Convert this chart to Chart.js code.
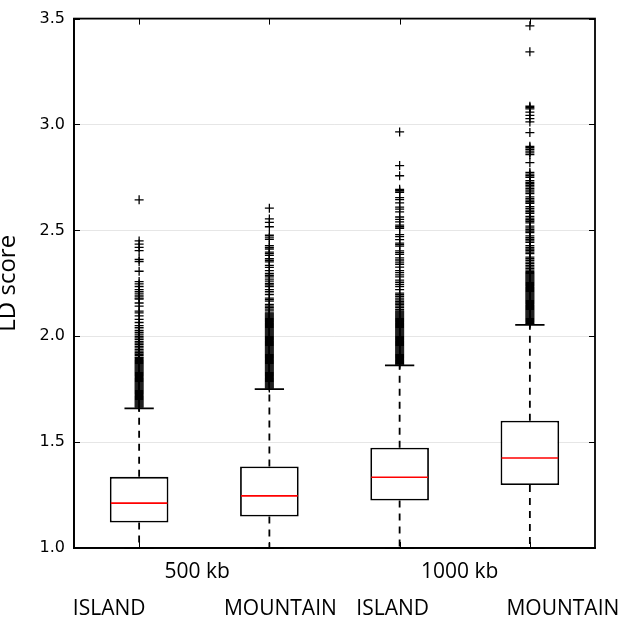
<!DOCTYPE html>
<html>
<head>
<meta charset="utf-8">
<script src="https://cdn.jsdelivr.net/npm/chart.js@4/dist/chart.umd.min.js"></script>
<style>
html,body{margin:0;padding:0;background:#fff;}
canvas{display:block;}
</style>
</head>
<body>
<canvas id="c" width="621" height="623"></canvas>
<script>
// ---- data ----
const categories = ['ISLAND', 'MOUNTAIN', 'ISLAND', 'MOUNTAIN'];
const groups = ['500 kb', '1000 kb'];
const categoryGroup = [0, 0, 1, 1];
const yTickLabels = ['1.0', '1.5', '2.0', '2.5', '3.0', '3.5'];
const whiskerLow = [1.0, 1.0, 1.0, 1.0];
const q1 = [1.120, 1.149, 1.224, 1.297];
const median = [1.212, 1.246, 1.334, 1.425];
const q3 = [1.336, 1.385, 1.474, 1.601];
const whiskerHigh = [1.659, 1.750, 1.862, 2.054];

const outliers500Island = [2.644, 2.45, 2.435, 2.42, 2.404, 2.363, 2.353, 2.307, 2.258, 2.247, 2.235, 2.22, 2.21, 2.2, 2.19, 2.18, 2.175, 2.157, 2.142, 2.119, 2.11, 2.096, 2.08, 2.065, 2.05, 2.04, 2.027, 2.018, 2.01, 2.0, 1.992, 1.985, 1.976, 1.968, 1.96, 1.952, 1.945, 1.937, 1.93, 1.922, 1.915, 1.908, 1.9,
  1.665, 1.67, 1.675, 1.68, 1.685, 1.69, 1.695, 1.7, 1.705, 1.71, 1.715, 1.72, 1.725, 1.73, 1.735, 1.74, 1.745, 1.75, 1.755, 1.76, 1.765, 1.77, 1.775, 1.78, 1.785, 1.79, 1.795, 1.8, 1.805, 1.81, 1.815, 1.82, 1.825, 1.83, 1.835, 1.84, 1.845, 1.85, 1.855, 1.86, 1.865, 1.87, 1.875, 1.88, 1.885, 1.89, 1.895];
const outliers500Mountain = [2.605, 2.554, 2.538, 2.517, 2.477, 2.468, 2.458, 2.428, 2.42, 2.412, 2.397, 2.39, 2.382, 2.366, 2.358, 2.351, 2.335, 2.325, 2.31, 2.297, 2.288, 2.28, 2.27, 2.26, 2.25, 2.243, 2.235, 2.22, 2.21, 2.197, 2.18, 2.173, 2.166, 2.15, 2.142, 2.135, 2.128, 2.12, 2.11,
  1.755, 1.76, 1.765, 1.77, 1.775, 1.78, 1.785, 1.79, 1.795, 1.8, 1.805, 1.81, 1.815, 1.82, 1.825, 1.83, 1.835, 1.84, 1.845, 1.85, 1.855, 1.86, 1.865, 1.87, 1.875, 1.88, 1.885, 1.89, 1.895, 1.9, 1.905, 1.91, 1.915, 1.92, 1.925, 1.93, 1.935, 1.94, 1.945, 1.95, 1.955, 1.96, 1.965, 1.97, 1.975, 1.98, 1.985, 1.99, 1.995, 2.0, 2.005, 2.01, 2.015, 2.02, 2.025, 2.03, 2.035, 2.04, 2.045, 2.05, 2.055, 2.06, 2.065, 2.07, 2.075, 2.08, 2.085, 2.09, 2.095, 2.1, 2.105];
const outliers1000Island = [2.965, 2.806, 2.758, 2.694, 2.687, 2.68, 2.655, 2.645, 2.63, 2.61, 2.6, 2.587, 2.563, 2.552, 2.54, 2.525, 2.517, 2.51, 2.48, 2.47, 2.456, 2.44, 2.433, 2.426, 2.403, 2.395, 2.387, 2.37, 2.36, 2.35, 2.34, 2.326, 2.31, 2.3, 2.29, 2.28, 2.265, 2.255, 2.245, 2.235, 2.22, 2.204, 2.196, 2.188, 2.18, 2.172, 2.165, 2.157, 2.15, 2.142, 2.135, 2.127,
  1.865, 1.87, 1.875, 1.88, 1.885, 1.89, 1.895, 1.9, 1.905, 1.91, 1.915, 1.92, 1.925, 1.93, 1.935, 1.94, 1.945, 1.95, 1.955, 1.96, 1.965, 1.97, 1.975, 1.98, 1.985, 1.99, 1.995, 2.0, 2.005, 2.01, 2.015, 2.02, 2.025, 2.03, 2.035, 2.04, 2.045, 2.05, 2.055, 2.06, 2.065, 2.07, 2.075, 2.08, 2.085, 2.09, 2.095, 2.1, 2.105, 2.11, 2.115, 2.12];
const outliers1000Mountain = [3.466, 3.343, 3.086, 3.08, 3.074, 3.058, 3.043, 3.028, 3.012, 2.962, 2.897, 2.89, 2.882, 2.874, 2.866, 2.858, 2.82, 2.774, 2.766, 2.758, 2.75, 2.735, 2.727, 2.72, 2.712, 2.705, 2.697, 2.69, 2.682, 2.674, 2.658, 2.65, 2.643, 2.635, 2.628, 2.612, 2.604, 2.596, 2.588, 2.58, 2.566, 2.558, 2.55, 2.543, 2.535, 2.52, 2.512, 2.505, 2.497, 2.49, 2.474, 2.466, 2.458, 2.45, 2.443, 2.428, 2.42, 2.412, 2.405, 2.397, 2.39, 2.374, 2.366, 2.358, 2.35, 2.343, 2.335, 2.328, 2.32, 2.312,
  2.06, 2.065, 2.07, 2.075, 2.08, 2.085, 2.09, 2.095, 2.1, 2.105, 2.11, 2.115, 2.12, 2.125, 2.13, 2.135, 2.14, 2.145, 2.15, 2.155, 2.16, 2.165, 2.17, 2.175, 2.18, 2.185, 2.19, 2.195, 2.2, 2.205, 2.21, 2.215, 2.22, 2.225, 2.23, 2.235, 2.24, 2.245, 2.25, 2.255, 2.26, 2.265, 2.27, 2.275, 2.28, 2.285, 2.29, 2.295, 2.3, 2.305];
const outlierSets = [outliers500Island, outliers500Mountain, outliers1000Island, outliers1000Mountain];

// unique internal keys for the category axis (display is done by the label plugin)
const categoryKeys = categories.map((c, i) => groups[categoryGroup[i]] + ' ' + c);

// ---- layout constants (not data) ----
const LABEL_FONT = '21px "Open Sans", "Noto Sans", sans-serif';
const catLabelShift = [-30, 11, -7, 33];
const groupLabelShift = [-7, -5];
const LINE_W = 1.8;

const boxPlugin = {
  id: 'boxParts',
  afterDatasetsDraw(chart) {
    const {ctx, scales: {y}} = chart;
    const meta = chart.getDatasetMeta(0);
    categories.forEach((_, i) => {
      const bar = meta.data[i];
      const cx = bar.x, w = bar.width;
      ctx.save();
      ctx.lineWidth = LINE_W;
      ctx.strokeStyle = '#000';
      ctx.setLineDash([7, 6]);
      ctx.beginPath();
      ctx.moveTo(cx, y.getPixelForValue(q3[i]));
      ctx.lineTo(cx, y.getPixelForValue(whiskerHigh[i]));
      ctx.moveTo(cx, y.getPixelForValue(q1[i]));
      ctx.lineTo(cx, y.getPixelForValue(whiskerLow[i]));
      ctx.stroke();
      ctx.setLineDash([]);
      ctx.beginPath();
      const hi = y.getPixelForValue(whiskerHigh[i]);
      const lo = y.getPixelForValue(whiskerLow[i]);
      ctx.moveTo(cx - w / 4, hi); ctx.lineTo(cx + w / 4, hi);
      ctx.moveTo(cx - w / 4, lo); ctx.lineTo(cx + w / 4, lo);
      ctx.stroke();
      ctx.strokeStyle = '#ff0000';
      ctx.lineWidth = 1.6;
      ctx.beginPath();
      const m = y.getPixelForValue(median[i]);
      ctx.moveTo(cx - w / 2 + 1, m); ctx.lineTo(cx + w / 2 - 1, m);
      ctx.stroke();
      ctx.restore();
    });
  },
  afterDraw(chart) {
    const {ctx, chartArea: a, scales: {x, y}} = chart;
    ctx.save();
    ctx.strokeStyle = '#000';
    ctx.lineWidth = LINE_W;
    ctx.strokeRect(a.left, a.top, a.right - a.left, a.bottom - a.top);
    ctx.lineWidth = 1;
    ctx.beginPath();
    y.ticks.forEach(t => {
      const py = Math.round(y.getPixelForValue(t.value)) + 0.5;
      ctx.moveTo(a.left, py); ctx.lineTo(a.left + 6, py);
      ctx.moveTo(a.right, py); ctx.lineTo(a.right - 6, py);
    });
    categories.forEach((_, i) => {
      const px = Math.round(x.getPixelForValue(i)) + 0.5;
      ctx.moveTo(px, a.top); ctx.lineTo(px, a.top + 6);
      ctx.moveTo(px, a.bottom); ctx.lineTo(px, a.bottom - 6);
    });
    ctx.stroke();
    ctx.fillStyle = '#000';
    ctx.font = LABEL_FONT;
    ctx.textAlign = 'center';
    ctx.textBaseline = 'alphabetic';
    categories.forEach((c, i) => {
      ctx.fillText(c, x.getPixelForValue(i) + catLabelShift[i], a.bottom + 67);
    });
    groups.forEach((g, gi) => {
      const idx = categoryGroup.map((gg, i) => gg === gi ? i : -1).filter(i => i >= 0);
      const cx = (x.getPixelForValue(idx[0]) + x.getPixelForValue(idx[idx.length - 1])) / 2;
      ctx.fillText(g, cx + groupLabelShift[gi], a.bottom + 30);
    });
    ctx.restore();
  }
};

new Chart(document.getElementById('c'), {
  type: 'bar',
  data: {
    labels: categoryKeys,
    datasets: [
      {
        type: 'bar',
        data: q1.map((v, i) => [v, q3[i]]),
        backgroundColor: '#ffffff',
        borderColor: '#000000',
        borderWidth: LINE_W,
        borderSkipped: false,
        barPercentage: 0.45,
        categoryPercentage: 1,
        order: 2
      },
      {
        type: 'scatter',
        data: outlierSets.flatMap((arr, i) => arr.map(v => ({x: categoryKeys[i], y: v}))),
        pointStyle: 'cross',
        pointRadius: 4.5,
        borderColor: '#000000',
        backgroundColor: '#000000',
        borderWidth: 1.3,
        order: 1
      }
    ]
  },
  options: {
    responsive: false,
    animation: false,
    devicePixelRatio: 1,
    layout: {padding: {top: 7, right: 26, left: 0, bottom: 0}},
    plugins: {legend: {display: false}, tooltip: {enabled: false}},
    scales: {
      x: {
        type: 'category',
        offset: true,
        grid: {display: false, drawTicks: false},
        border: {display: true, color: '#000', width: LINE_W},
        ticks: {display: false},
        afterFit: s => { s.height = 75; }
      },
      y: {
        type: 'linear',
        min: 1.0,
        max: 3.5,
        grid: {color: '#e6e6e6', lineWidth: 1, drawTicks: false},
        border: {display: true, color: '#000', width: LINE_W},
        ticks: {
          stepSize: 0.5,
          padding: 9,
          color: '#000',
          font: {family: '"DejaVu Sans", sans-serif', size: 16},
          callback: (v, idx) => yTickLabels[idx]
        },
        title: {
          display: true,
          text: 'LD score',
          color: '#000',
          font: {family: '"Open Sans", "Noto Sans", sans-serif', size: 24, lineHeight: 0.7},
          padding: {top: 0, bottom: 0}
        },
        afterFit: s => { s.width = 74; }
      }
    }
  },
  plugins: [boxPlugin]
});
</script>
</body>
</html>
